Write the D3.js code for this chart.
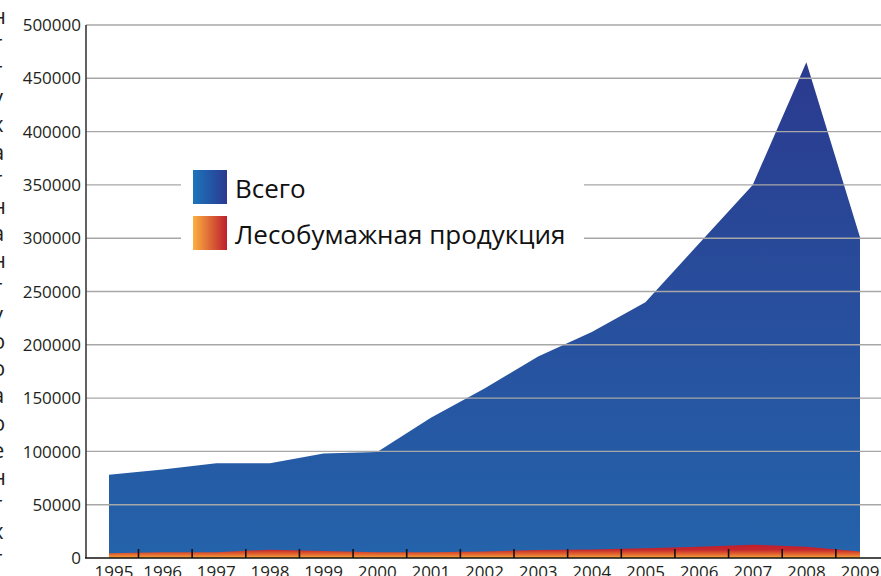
<!DOCTYPE html>
<html lang="ru">
<head>
<meta charset="utf-8">
<title>Экспорт</title>
<script src="https://d3js.org/d3.v7.min.js"></script>
<style>
  html, body { margin: 0; padding: 0; background: #fff; }
  svg { display: block; font-family: "Open Sans", "DejaVu Sans", sans-serif; }
  .tick-label { font-size: 17px; fill: #231f20; }
  .year-label { font-size: 17px; fill: #231f20; }
  .legend-text { font-size: 26px; fill: #111; }
  .side-text { font-size: 22px; fill: #231f20; }
</style>
</head>
<body>
<div id="chart"></div>
<script>
// data
const years = [1995, 1996, 1997, 1998, 1999, 2000, 2001, 2002, 2003, 2004, 2005, 2006, 2007, 2008, 2009];
const total = [78000, 83000, 89000, 89000, 98000, 99500, 131500, 159000, 189000, 212000, 240000, 295000, 350000, 465000, 301000];
const forest = [4500, 5500, 5500, 7800, 6500, 5500, 5500, 6200, 7500, 8000, 9200, 10500, 12500, 10500, 6200];
const yTicks = [0, 50000, 100000, 150000, 200000, 250000, 300000, 350000, 400000, 450000, 500000];
const legendNames = ["Всего", "Лесобумажная продукция"];
// right edge of the page text that got cut into the crop
const sideLetters = ["н", "т", "т", "у", "х", "а", "т", "н", "а", "н", "т", "у", "о", "о", "а", "о", "е", "н", "т", "х", "т"];

const W = 881, H = 576;
const svg = d3.select("#chart").append("svg")
    .attr("width", W)
    .attr("height", H);

const x = d3.scalePoint().domain(years).range([109, 860]);
const y = d3.scaleLinear().domain([0, 500000]).range([558, 25]);
const step = x.step();

const defs = svg.append("defs");

// vertical gradient for the total area
const gBlue = defs.append("linearGradient")
    .attr("id", "blueFill")
    .attr("gradientUnits", "userSpaceOnUse")
    .attr("x1", 0).attr("y1", y(465000)).attr("x2", 0).attr("y2", y(0));
gBlue.append("stop").attr("offset", "0%").attr("stop-color", "#2b3a8e");
gBlue.append("stop").attr("offset", "100%").attr("stop-color", "#2463ab");

// vertical gradient for the forest products band
const gRed = defs.append("linearGradient")
    .attr("id", "redFill")
    .attr("gradientUnits", "userSpaceOnUse")
    .attr("x1", 0).attr("y1", y(13000)).attr("x2", 0).attr("y2", y(0));
gRed.append("stop").attr("offset", "0%").attr("stop-color", "#bf1e2e");
gRed.append("stop").attr("offset", "40%").attr("stop-color", "#c4262d");
gRed.append("stop").attr("offset", "72%").attr("stop-color", "#e2642f");
gRed.append("stop").attr("offset", "100%").attr("stop-color", "#f6a83c");

// legend swatches, horizontal gradients
const sBlue = defs.append("linearGradient").attr("id", "swBlue");
sBlue.append("stop").attr("offset", "0%").attr("stop-color", "#1b75bc");
sBlue.append("stop").attr("offset", "100%").attr("stop-color", "#2b3990");
const sRed = defs.append("linearGradient").attr("id", "swRed");
sRed.append("stop").attr("offset", "0%").attr("stop-color", "#fbb040");
sRed.append("stop").attr("offset", "100%").attr("stop-color", "#be1e2d");

const area = vals => d3.area()
    .x((d, i) => x(years[i]))
    .y0(y(0))
    .y1(d => y(d))(vals);

svg.append("path").attr("d", area(total)).attr("fill", "url(#blueFill)");
svg.append("path").attr("d", area(forest)).attr("fill", "url(#redFill)");

// grid lines sit on top of the areas
svg.append("g").selectAll("line")
    .data(yTicks.filter(d => d > 0))
    .enter().append("line")
    .attr("x1", 86).attr("x2", W)
    .attr("y1", d => y(d)).attr("y2", d => y(d))
    .attr("stroke", "#a7a7a7")
    .attr("stroke-width", 1.4);

// y labels
svg.append("g").selectAll("text")
    .data(yTicks)
    .enter().append("text")
    .attr("class", "tick-label")
    .attr("x", 81)
    .attr("y", d => y(d))
    .attr("dy", "0.36em")
    .attr("text-anchor", "end")
    .text(d => d);

// axes
svg.append("line")
    .attr("x1", 86).attr("x2", 86)
    .attr("y1", y(500000)).attr("y2", y(0))
    .attr("stroke", "#3a3a3a").attr("stroke-width", 1.6);
svg.append("line")
    .attr("x1", 85).attr("x2", W)
    .attr("y1", y(0)).attr("y2", y(0))
    .attr("stroke", "#111").attr("stroke-width", 1.6);

// small ticks between the years
svg.append("g").selectAll("line")
    .data(years.slice(0, -1))
    .enter().append("line")
    .attr("x1", d => x(d) + step * 0.55)
    .attr("x2", d => x(d) + step * 0.55)
    .attr("y1", y(0) - 9).attr("y2", y(0))
    .attr("stroke", "#111").attr("stroke-width", 1.6);

svg.append("g").selectAll("text")
    .data(years)
    .enter().append("text")
    .attr("class", "year-label")
    .attr("x", d => x(d) + (d === years[0] ? 5 : 0))
    .attr("y", 578)
    .attr("text-anchor", "middle")
    .text(d => d);

// legend
svg.append("rect")
    .attr("x", 181).attr("y", 163)
    .attr("width", 403).attr("height", 96)
    .attr("fill", "#fff");

const leg = svg.append("g").selectAll("g")
    .data(legendNames)
    .enter().append("g")
    .attr("transform", (d, i) => "translate(193," + (170 + i * 46) + ")");
leg.append("rect")
    .attr("width", 34).attr("height", 34)
    .attr("fill", (d, i) => i === 0 ? "url(#swBlue)" : "url(#swRed)");
leg.append("text")
    .attr("class", "legend-text")
    .attr("x", 42)
    .attr("y", 28)
    .text(d => d);

// cut-off column of text at the left edge
svg.append("g").selectAll("text")
    .data(sideLetters)
    .enter().append("text")
    .attr("class", "side-text")
    .attr("x", -8)
    .attr("y", (d, i) => 24 + i * 27.1)
    .text(d => d);
</script>
</body>
</html>
